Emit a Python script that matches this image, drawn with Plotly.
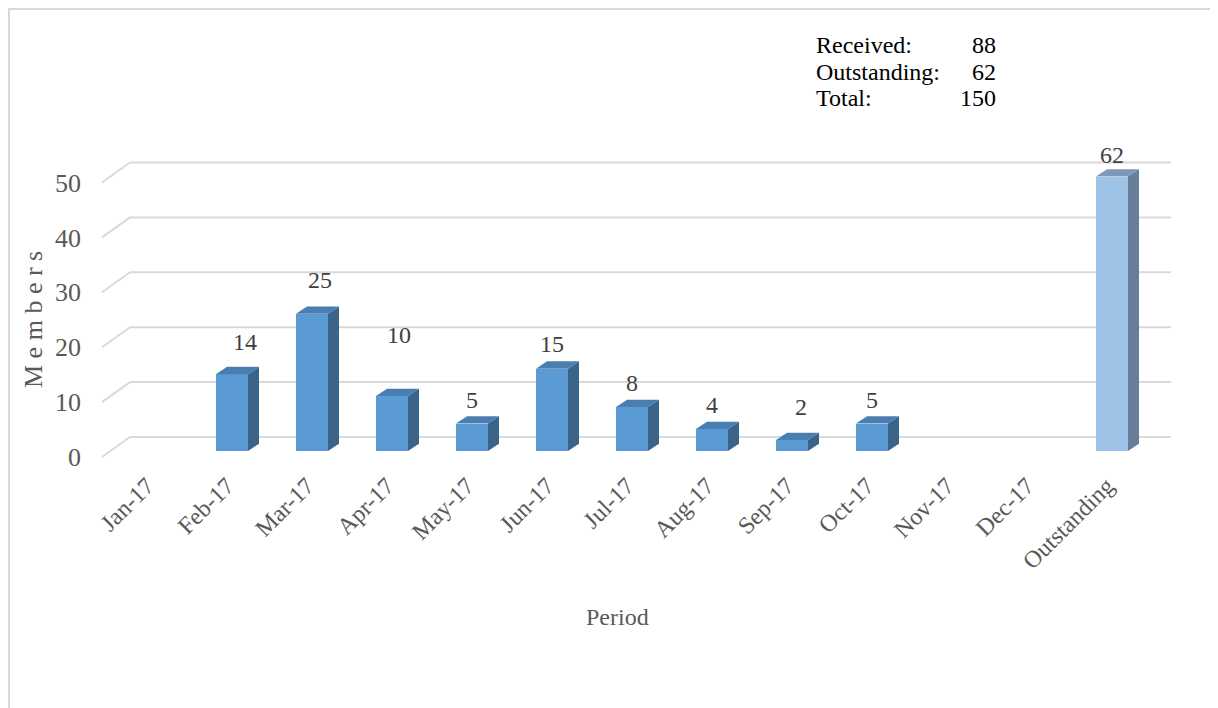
import plotly.graph_objects as go

# ---------------- data ----------------
categories = ["Jan-17", "Feb-17", "Mar-17", "Apr-17", "May-17", "Jun-17",
              "Jul-17", "Aug-17", "Sep-17", "Oct-17", "Nov-17", "Dec-17",
              "Outstanding"]
received = [0, 14, 25, 10, 5, 15, 8, 4, 2, 5, 0, 0]
outstanding = 62
y_ticks = [0, 10, 20, 30, 40, 50]
axis_max = 50
summary_labels = ["Received:", "Outstanding:", "Total:"]
summary_values = [sum(received), outstanding, sum(received) + outstanding]

values = received + [outstanding]

# ---------------- geometry / style ----------------
OFF = 8                                  # page body margin of the html output
W, H = 1218 - OFF, 708 - OFF
# page-pixel geometry (converted to figure pixels by subtracting OFF)
L, R, T, B = 90 - OFF, 1190 - OFF, 140 - OFF, 466 - OFF
X0_PX, X_STEP = 152 - OFF, 80
Y0_PX, Y_UNIT = 451 - OFF, 5.49
FONT = "Liberation Serif, Times New Roman, serif"

def xu(px):  # page pixel -> x data units
    return (px - OFF - X0_PX) / X_STEP

def yu(py):  # page pixel -> y data units
    return (Y0_PX - (py - OFF)) / Y_UNIT

def xp(px):  # page pixel -> paper x
    return (px - OFF - L) / (R - L)

def yp(py):  # page pixel -> paper y
    return (B - (py - OFF)) / (B - T)

BAR_W = 32 / X_STEP
DX = 11 / X_STEP            # depth offset in x units
DY = 7.3 / Y_UNIT           # depth offset in y units
BACK_DY = 14 / Y_UNIT       # back wall gridlines above bar baseline
FRONT_DY = -6 / Y_UNIT      # front edge (tick labels) below bar baseline
TICK_SHIFT = -5 / X_STEP    # category label anchor shift

front_col = ["#5B9BD5"] * len(received) + ["#9DC3E6"]
top_col = ["#4A7EB0"] * len(received) + ["#7D98B8"]
side_col = ["#3A6488"] * len(received) + ["#677E99"]

# label nudges (pixels): lift above bar top, horizontal shift
label_lift = [0, 32, 34, 61, 24, 25, 24, 24, 33, 24, 0, 0, 22]
label_dx = [0, 13, 8, 7, 0, 0, 0, 0, 9, 0, 0, 0, 0]

fig = go.Figure()

idx = list(range(len(categories)))
shown = [min(v, axis_max) for v in values]

# front faces
fig.add_trace(go.Bar(
    x=idx, y=shown, width=BAR_W,
    marker=dict(color=front_col, line=dict(width=0)),
    hoverinfo="skip", showlegend=False,
))

# side and top faces
for i, h in zip(idx, shown):
    if h <= 0:
        continue
    xr = i + BAR_W / 2
    xl = i - BAR_W / 2
    fig.add_trace(go.Scatter(
        x=[xr, xr + DX, xr + DX, xr, xr],
        y=[0, DY, h + DY, h, 0],
        fill="toself", fillcolor=side_col[i], mode="lines",
        line=dict(width=0, color=side_col[i]),
        hoverinfo="skip", showlegend=False,
    ))
    fig.add_trace(go.Scatter(
        x=[xl, xl + DX, xr + DX, xr, xl],
        y=[h, h + DY, h + DY, h, h],
        fill="toself", fillcolor=top_col[i], mode="lines",
        line=dict(width=0, color=top_col[i]),
        hoverinfo="skip", showlegend=False,
    ))

# gridlines on back wall + side diagonals
shapes = []
grid_x0, grid_x1 = xu(130), xu(1171)
front_x = xu(102)
for v in y_ticks:
    shapes.append(dict(type="line", xref="x", yref="y", layer="below",
                       x0=grid_x0, x1=grid_x1, y0=v + BACK_DY, y1=v + BACK_DY,
                       line=dict(color="#D9D9D9", width=2)))
    shapes.append(dict(type="line", xref="x", yref="y", layer="below",
                       x0=front_x, x1=grid_x0, y0=v + FRONT_DY, y1=v + BACK_DY,
                       line=dict(color="#D9D9D9", width=2)))

# chart-area border (only left and top edges are in view)
shapes.append(dict(type="line", xref="paper", yref="paper",
                   x0=xp(9), x1=xp(1240), y0=yp(9), y1=yp(9),
                   line=dict(color="#D9D9D9", width=2)))
shapes.append(dict(type="line", xref="paper", yref="paper",
                   x0=xp(9), x1=xp(9), y0=yp(8), y1=yp(730),
                   line=dict(color="#D9D9D9", width=2)))

annotations = []
# data labels
for i, v in enumerate(values):
    if v <= 0:
        continue
    annotations.append(dict(
        x=i, y=shown[i], xref="x", yref="y", text=str(v), showarrow=False,
        xanchor="center", yanchor="middle",
        xshift=label_dx[i], yshift=label_lift[i],
        font=dict(family=FONT, size=24, color="#404040"),
    ))

# summary text box
rows_py = [45, 72, 98]
for lab, val, py in zip(summary_labels, summary_values, rows_py):
    annotations.append(dict(x=xp(814), y=yp(py), xref="paper", yref="paper",
                            text=lab, showarrow=False, xanchor="left", yanchor="middle",
                            font=dict(family=FONT, size=24, color="#000000")))
    annotations.append(dict(x=xp(998), y=yp(py), xref="paper", yref="paper",
                            text=str(val), showarrow=False, xanchor="right", yanchor="middle",
                            font=dict(family=FONT, size=24, color="#000000")))

# axis titles
annotations.append(dict(x=xp(617), y=yp(617), xref="paper", yref="paper",
                        text="Period", showarrow=False, xanchor="center", yanchor="middle",
                        font=dict(family=FONT, size=24, color="#595959")))
annotations.append(dict(x=xp(33), y=yp(320), xref="paper", yref="paper",
                        text="M e m b e r s", showarrow=False, textangle=-90,
                        xanchor="center", yanchor="middle",
                        font=dict(family=FONT, size=26, color="#595959")))

fig.update_layout(
    width=W, height=H,
    margin=dict(l=L, r=W - R, t=T, b=H - B, pad=0),
    paper_bgcolor="white", plot_bgcolor="white",
    shapes=shapes, annotations=annotations,
    bargap=0, showlegend=False,
    xaxis=dict(range=[xu(90), xu(1190)], tickvals=[i + TICK_SHIFT for i in idx],
               ticktext=categories,
               tickangle=-45, showgrid=False, zeroline=False, showline=False,
               ticks="", tickfont=dict(family=FONT, size=24, color="#595959")),
    yaxis=dict(range=[yu(466), yu(140)], tickvals=[v + FRONT_DY for v in y_ticks],
               ticktext=[str(v) for v in y_ticks], showgrid=False, zeroline=False,
               showline=False, ticks="", ticklabelstandoff=8,
               tickfont=dict(family=FONT, size=26, color="#595959")),
)

fig.write_html("out.html")
